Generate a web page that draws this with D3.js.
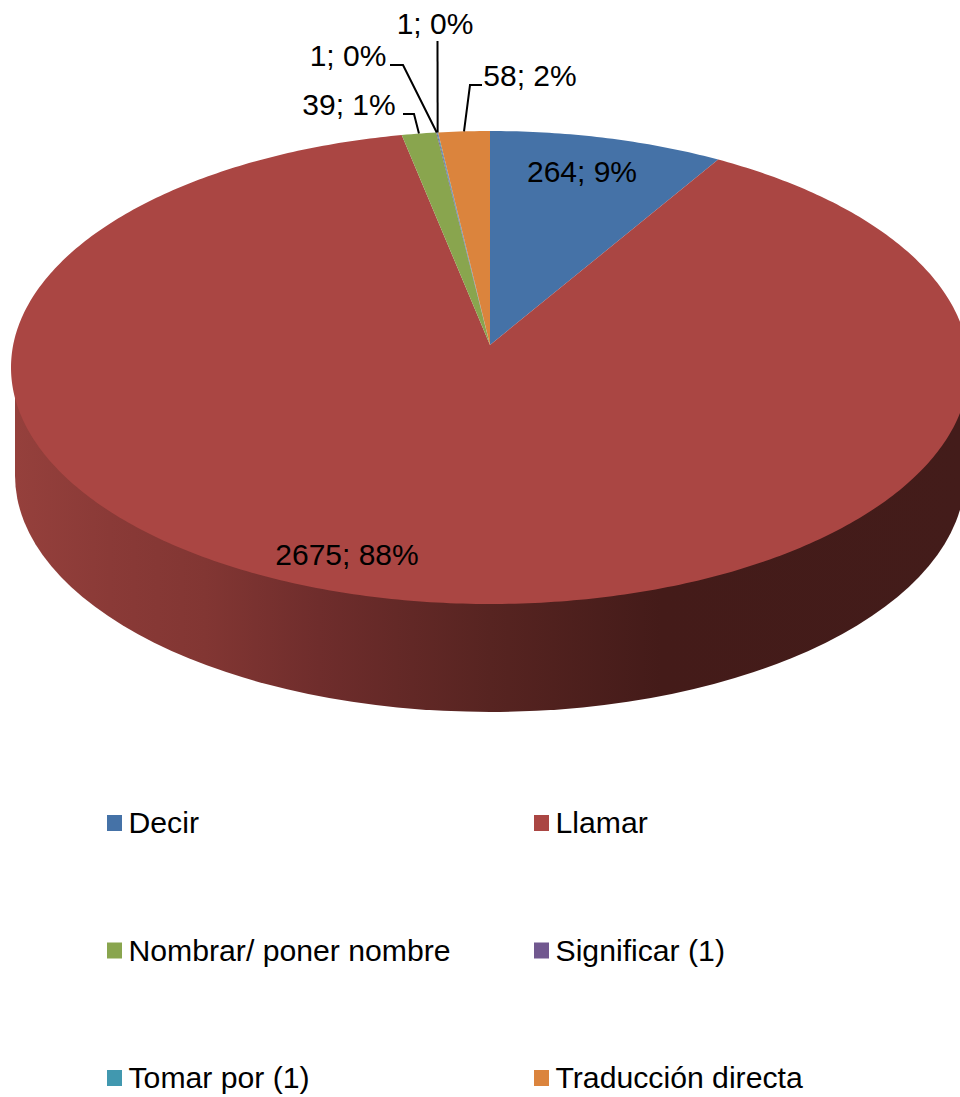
<!DOCTYPE html>
<html><head><meta charset="utf-8">
<script src="https://cdn.jsdelivr.net/npm/d3@7"></script>
<style>html,body{margin:0;padding:0;background:#fff;overflow:hidden}svg{display:block}text{font-family:"Liberation Sans",Arial,sans-serif;fill:#000}</style>
</head><body><svg id="c" width="960" height="1097"></svg>
<script>
const categories = ["Decir","Llamar","Nombrar/ poner nombre","Significar (1)","Tomar por (1)","Traducción directa"];
const values = [264,2675,39,1,1,58];
const colors = ["#4572a7","#aa4643","#89a54e","#71588f","#4198af","#db843d"];
const wallStops = [[0,"#95403c"],[0.1,"#8a3a37"],[0.2,"#823633"],[0.32,"#6f2d2c"],[0.5,"#572421"],[0.68,"#441b19"],[1,"#431c1a"]];
// label layout: text anchor point, and leader elbow path start (null = label sits on the slice)
const labelX = [582,347,349,348,435,530];
const labelY = [182,565,115,66,34,86];
const leaderStart = [null,null,[403,114],[390,65],[437.5,41],[482,85]];
const leaderElbow = [null,null,[414,114],[403,65],null,[470,85]];

const svg = d3.select("#c");
const apex = {x:490,y:345}, disc = {cx:490,cy:367.5,rx:479,ry:236.5};
const depth = 108, baseRx = 475;
const k = disc.ry/disc.rx;
const total = d3.sum(values);

// Ray from the apex at a true pie angle, cut with the tilted rim ellipse
function rim(a){
  const dx=Math.sin(a), dy=-k*Math.cos(a);
  const ox=apex.x-disc.cx, oy=apex.y-disc.cy;
  const A=dx*dx/(disc.rx*disc.rx)+dy*dy/(disc.ry*disc.ry);
  const B=2*(ox*dx/(disc.rx*disc.rx)+oy*dy/(disc.ry*disc.ry));
  const C=ox*ox/(disc.rx*disc.rx)+oy*oy/(disc.ry*disc.ry)-1;
  const t=(-B+Math.sqrt(B*B-4*A*C))/(2*A);
  return [apex.x+t*dx, apex.y+t*dy];
}
const pie = d3.pie().sort(null).value(d=>d)(values);
const line = d3.line();

const defs = svg.append("defs");
const g = defs.append("linearGradient").attr("id","wall").attr("gradientUnits","userSpaceOnUse")
  .attr("x1",disc.cx-baseRx).attr("x2",disc.cx+baseRx).attr("y1",0).attr("y2",0);
wallStops.forEach(s=>g.append("stop").attr("offset",s[0]).attr("stop-color",s[1]));

// side wall
const by = disc.cy+depth;
svg.append("path").attr("fill","url(#wall)")
  .attr("d",`M${disc.cx-baseRx},${disc.cy}L${disc.cx-baseRx},${by}A${baseRx},${disc.ry} 0 0 0 ${disc.cx+baseRx},${by}L${disc.cx+baseRx},${disc.cy}Z`);

// disc slices
svg.append("g").selectAll("path").data(pie).join("path")
  .attr("fill",(d,i)=>colors[i])
  .attr("d",d=>{
    const n=Math.max(2,Math.ceil((d.endAngle-d.startAngle)*80));
    const pts=[[apex.x,apex.y]];
    d3.range(n+1).forEach(i=>pts.push(rim(d.startAngle+(d.endAngle-d.startAngle)*i/n)));
    return line(pts)+"Z";
  });

// leader lines
pie.forEach((d,i)=>{
  if(!leaderStart[i]) return;
  const end=rim((d.startAngle+d.endAngle)/2);
  const pts=[leaderStart[i]];
  if(leaderElbow[i]) pts.push(leaderElbow[i]);
  pts.push(end);
  svg.append("path").attr("d",line(pts)).attr("fill","none").attr("stroke","#000").attr("stroke-width",2);
});

// data labels
svg.append("g").selectAll("text").data(values).join("text")
  .attr("x",(d,i)=>labelX[i]).attr("y",(d,i)=>labelY[i])
  .attr("text-anchor","middle").attr("font-size",30)
  .text(d=>`${d}; ${Math.round(d/total*100)}%`);

// legend
const col = d3.scalePoint().domain([0,1]).range([107,534]);
const row = d3.scalePoint().domain([0,1,2]).range([833,1088]);
const lg = svg.append("g").selectAll("g").data(categories).join("g")
  .attr("transform",(d,i)=>`translate(${col(i%2)},${row(Math.floor(i/2))})`);
lg.append("rect").attr("x",0).attr("y",-18).attr("width",15).attr("height",16).attr("fill",(d,i)=>colors[i]);
lg.append("text").attr("x",21.5).attr("font-size",30.2).text(d=>d);
</script></body></html>
